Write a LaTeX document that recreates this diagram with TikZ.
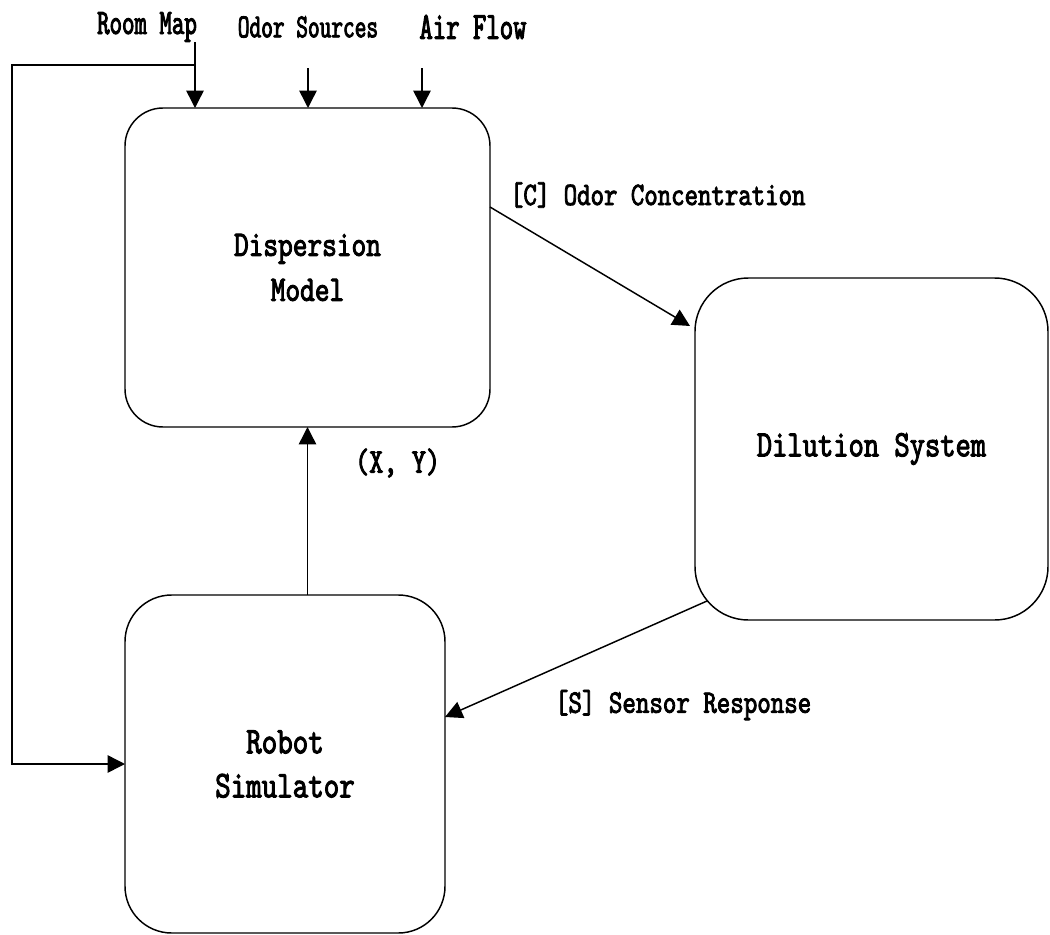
\documentclass[tikz,border=0pt]{standalone}
\usepackage{fontspec}
\usetikzlibrary{arrows.meta,calc}
% condensed, slightly heavier typewriter faces for the labels
\newfontfamily\boxfont[FakeStretch=0.78,FakeBold=2.5]{lmmono10-regular.otf}
\newfontfamily\topfont[FakeStretch=0.66,FakeBold=2.5]{lmmono10-regular.otf}
\begin{document}
\begin{tikzpicture}[x=0.75pt,y=-0.75pt,
  blk/.style={draw, line width=1.1pt, inner sep=0pt, outer sep=0pt, align=center},
  lbl/.style={inner sep=0pt, outer sep=0pt},
  arr/.style={line width=1.1pt, -{Triangle[length=13pt,width=13pt]}}]
\useasboundingbox (0,0) rectangle (1050,935);

% blocks
\node[blk, rounded corners=28.5pt, minimum width=273.75pt, minimum height=239.25pt,
      font=\boxfont\fontsize{26.9}{33.75}\selectfont] (disp) at (307.5,267.5) {Dispersion\\Model};
\node[blk, rounded corners=40pt, minimum width=264.75pt, minimum height=256.5pt,
      font=\boxfont\fontsize{28}{34}\selectfont] (dil) at (871.5,449) {Dilution System};
\node[blk, rounded corners=35pt, minimum width=240pt, minimum height=253.5pt,
      font=\boxfont\fontsize{28.4}{33}\selectfont] (robot) at (285,764) {Robot\\Simulator};

% inputs on top
\node[lbl, font=\topfont\fontsize{27}{30}\selectfont] (rm) at (147,27) {Room Map};
\node[lbl, font=\topfont\fontsize{25.3}{30}\selectfont] (os) at (308,27) {Odor Sources};
\node[lbl, font=\topfont\fontsize{29}{30}\selectfont] (af) at (473,27) {Air Flow};

% signal labels
\node[lbl, anchor=west, font=\boxfont\fontsize{24.6}{30}\selectfont] (conc) at (510,195) {[C] Odor Concentration};
\node[lbl, anchor=west, font=\boxfont\fontsize{24.7}{30}\selectfont] (resp) at (555,705) {[S] Sensor Response};
\node[lbl, anchor=west, font=\boxfont\fontsize{26}{30}\selectfont] (xy) at (355,463) {(X, Y)};

% connector end points
\coordinate (rmfoot) at (195,42);
\coordinate (fb) at (195,65);
\coordinate (lft) at (12,65);
\coordinate (osfoot) at (308,68);
\coordinate (affoot) at (422,68);
\coordinate (cy) at (0,207);
\coordinate (ctip) at (690,326);
\coordinate (sstart) at (707,601);
\coordinate (sy) at (0,717);

% connectors
\draw[arr] (rmfoot) -- (rmfoot |- disp.north);
\draw[arr] (osfoot) -- (osfoot |- disp.north);
\draw[arr] (affoot) -- (affoot |- disp.north);
\draw[arr] (fb) -- (lft) |- (robot.west);
\draw[arr] (disp.east |- cy) -- (ctip);
\draw[arr] (sstart) -- (robot.east |- sy);
\draw[arr] (disp.south |- robot.north) -- (disp.south);
\end{tikzpicture}
\end{document}
